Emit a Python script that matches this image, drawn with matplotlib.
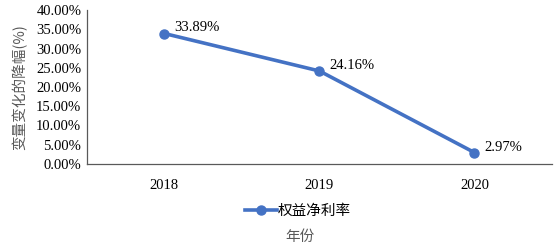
import matplotlib.pyplot as plt
from matplotlib.ticker import FuncFormatter

years = ['2018', '2019', '2020']
roe = [33.89, 24.16, 2.97]
series_name = '权益净利率'
ylabel = '变量变化的降幅(%)'
xlabel = '年份'

plt.rcParams['font.family'] = ['Liberation Serif', 'Noto Sans CJK SC']
cjk = ['Noto Sans CJK SC', 'DejaVu Sans']

fig = plt.figure(figsize=(5.57, 2.5), dpi=100)
ax = fig.add_axes([0.156, 0.344, 0.835, 0.616])

x = range(len(years))
line, = ax.plot(x, roe, color='#4472C4', lw=2.6, marker='o', ms=6.5, label=series_name)
for i, v in zip(x, roe):
    ax.annotate('%.2f%%' % v, (i, v), xytext=(7, 4), textcoords='offset points',
                ha='left', va='center', fontsize=10.5)

ax.set_xlim(-0.5, len(years) - 0.5)
ax.set_ylim(0, 40)
ax.set_yticks(range(0, 41, 5))
ax.yaxis.set_major_formatter(FuncFormatter(lambda v, p: '%.2f%%' % v))
ax.set_xticks(list(x))
ax.set_xticklabels(years)
ax.tick_params(axis='both', length=0, labelsize=10.5)
ax.tick_params(axis='x', pad=11)
ax.tick_params(axis='y', pad=4)
for s in ['top', 'right']:
    ax.spines[s].set_visible(False)
for s in ['left', 'bottom']:
    ax.spines[s].set_color('#595959')
    ax.spines[s].set_linewidth(0.9)

ax.set_ylabel(ylabel, family=cjk, fontsize=10.5, color='#595959', labelpad=6)

fig.legend(handles=[line], loc='center', bbox_to_anchor=(298 / 557, 1 - 211 / 250),
           frameon=False, prop={'family': cjk, 'size': 10.5}, handlelength=2.2,
           handletextpad=0.1)
fig.text(300 / 557, 1 - 237 / 250, xlabel, family=cjk, fontsize=10.5, color='#595959',
         ha='center', va='center')

fig.savefig('out.png', dpi=100)
